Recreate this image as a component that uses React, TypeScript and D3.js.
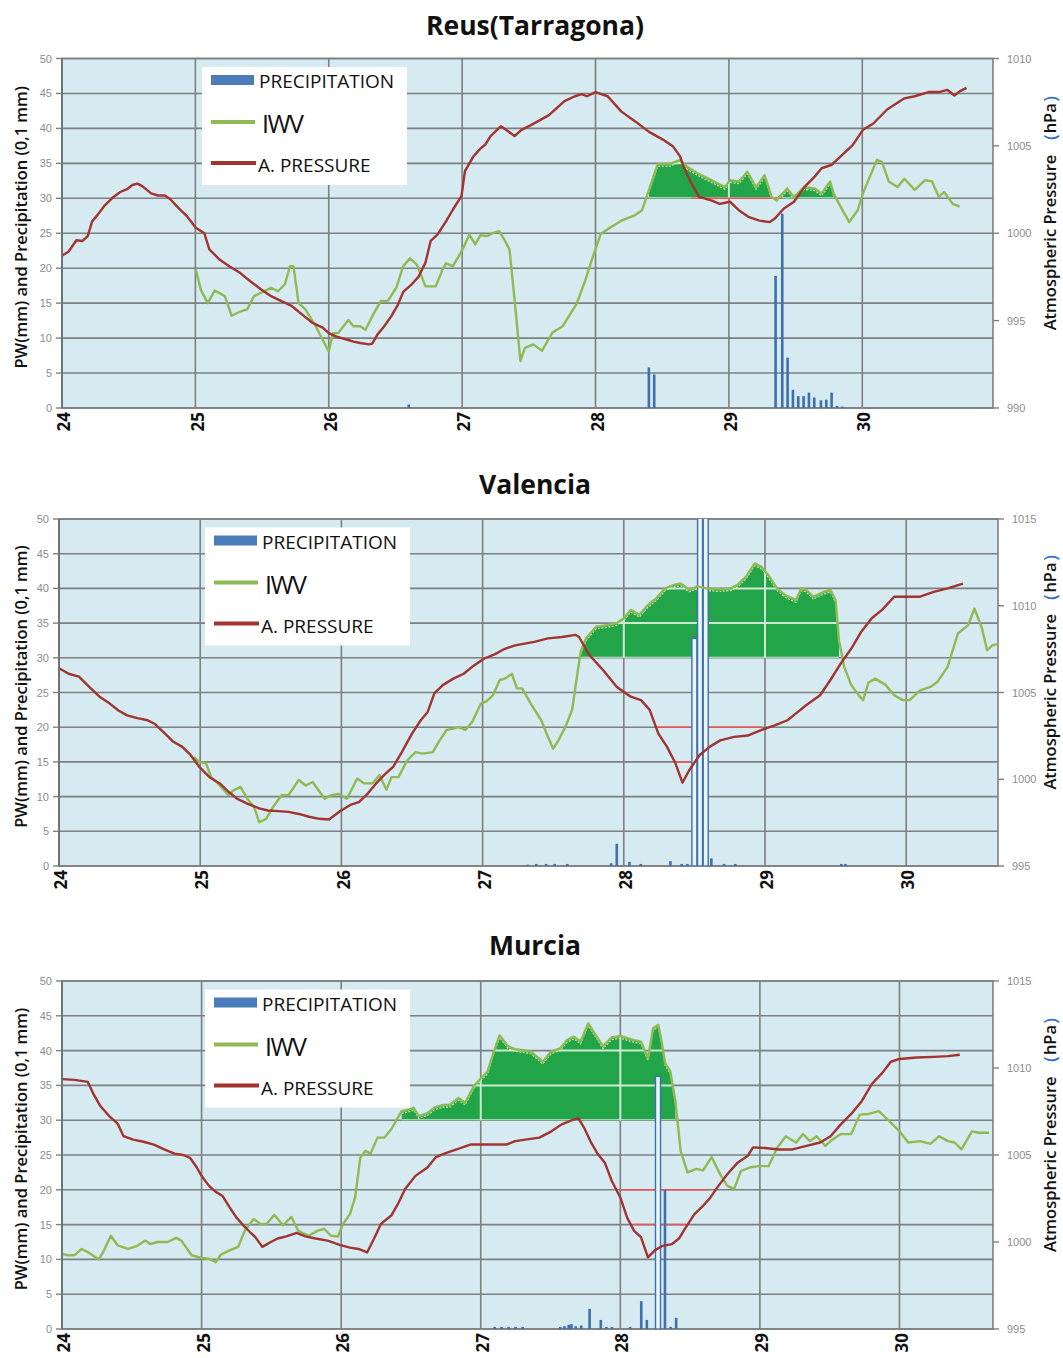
import React from "react";
import * as d3 from "d3";

type Pt = [number, number];

// ---------- shared tick values ----------
const DAY_TICKS = [24, 25, 26, 27, 28, 29, 30];
const PW_TICKS = [0, 5, 10, 15, 20, 25, 30, 35, 40, 45, 50];
const REUS_P_TICKS = [990, 995, 1000, 1005, 1010];
const VAL_P_TICKS = [995, 1000, 1005, 1010, 1015];
const MUR_P_TICKS = [995, 1000, 1005, 1010, 1015];

// ---------- Reus (Tarragona) ----------
const REUS_IWV: Pt[] = [
  [25.003, 19.8], [25.041, 16.9], [25.093, 15.0], [25.144, 16.8], [25.221, 16.0], [25.272, 13.2],
  [25.337, 13.8], [25.388, 14.1], [25.44, 16.0], [25.504, 16.6], [25.568, 17.2], [25.62, 16.7],
  [25.671, 17.7], [25.71, 20.3], [25.735, 20.3], [25.774, 15.0], [25.825, 14.1], [25.902, 11.7],
  [25.967, 9.3], [26.0, 8.1], [26.031, 10.7], [26.069, 10.7], [26.147, 12.6], [26.185, 11.7],
  [26.237, 11.7], [26.275, 11.2], [26.339, 13.6], [26.391, 15.3], [26.442, 15.3], [26.506, 17.2],
  [26.558, 20.3], [26.609, 21.4], [26.661, 20.5], [26.725, 17.4], [26.802, 17.4], [26.853, 19.8],
  [26.879, 20.7], [26.931, 20.3], [26.995, 22.4], [27.054, 24.8], [27.098, 23.4], [27.136, 24.7],
  [27.188, 24.6], [27.239, 25.1], [27.278, 25.3], [27.316, 24.1], [27.355, 22.7], [27.393, 15.5],
  [27.437, 6.7], [27.47, 8.6], [27.534, 9.1], [27.599, 8.2], [27.677, 10.8], [27.754, 11.7],
  [27.858, 14.9], [27.922, 18.2], [27.974, 21.3], [28.039, 24.9], [28.116, 25.9], [28.194, 26.8],
  [28.298, 27.6], [28.349, 28.3], [28.401, 31.2], [28.466, 34.9], [28.556, 34.9], [28.634, 35.5],
  [28.686, 34.5], [28.763, 33.6], [28.867, 32.6], [28.97, 31.6], [29.009, 32.6], [29.074, 32.4],
  [29.138, 33.8], [29.203, 31.6], [29.268, 33.3], [29.32, 30.2], [29.358, 29.7], [29.436, 31.4],
  [29.488, 30.2], [29.565, 31.6], [29.643, 31.4], [29.695, 30.7], [29.759, 32.4], [29.785, 30.7],
  [29.837, 28.8], [29.902, 26.6], [29.966, 28.3], [30.005, 30.7], [30.057, 33.1], [30.109, 35.5],
  [30.147, 35.2], [30.199, 32.4], [30.264, 31.6], [30.316, 32.8], [30.393, 31.2], [30.471, 32.6],
  [30.523, 32.4], [30.574, 30.2], [30.613, 30.9], [30.678, 29.2], [30.73, 28.8],
];

const REUS_PRESSURE: Pt[] = [
  [24.0, 998.72], [24.051, 998.96], [24.108, 999.6], [24.154, 999.56], [24.193, 999.84],
  [24.226, 1000.68], [24.27, 1001.08], [24.321, 1001.6], [24.386, 1002.08], [24.437, 1002.36],
  [24.488, 1002.52], [24.527, 1002.76], [24.566, 1002.84], [24.604, 1002.68], [24.668, 1002.28],
  [24.72, 1002.16], [24.771, 1002.16], [24.81, 1001.96], [24.874, 1001.44], [24.938, 1000.96],
  [25.003, 1000.32], [25.067, 1000.0], [25.105, 999.08], [25.183, 998.48], [25.26, 998.08],
  [25.337, 997.72], [25.414, 997.24], [25.491, 996.8], [25.568, 996.4], [25.645, 996.12],
  [25.722, 995.84], [25.799, 995.36], [25.877, 994.88], [25.954, 994.6], [26.0, 994.28],
  [26.057, 994.08], [26.134, 993.92], [26.185, 993.8], [26.237, 993.72], [26.301, 993.64],
  [26.326, 993.68], [26.365, 994.2], [26.416, 994.68], [26.468, 995.24], [26.519, 995.92],
  [26.558, 996.64], [26.622, 997.08], [26.674, 997.52], [26.725, 998.32], [26.764, 999.56],
  [26.815, 999.92], [26.879, 1000.68], [26.931, 1001.36], [26.995, 1002.12], [27.021, 1003.56],
  [27.085, 1004.4], [27.136, 1004.84], [27.175, 1005.08], [27.213, 1005.56], [27.252, 1005.84],
  [27.29, 1006.12], [27.329, 1005.92], [27.393, 1005.56], [27.445, 1005.92], [27.509, 1006.16],
  [27.651, 1006.76], [27.767, 1007.56], [27.845, 1007.84], [27.897, 1007.96], [27.935, 1007.84],
  [28.0, 1008.08], [28.091, 1007.84], [28.194, 1006.96], [28.298, 1006.4], [28.401, 1005.8],
  [28.505, 1005.36], [28.582, 1004.96], [28.634, 1004.4], [28.66, 1003.8], [28.712, 1002.96],
  [28.776, 1002.08], [28.867, 1001.88], [28.931, 1001.68], [29.009, 1001.8], [29.074, 1001.32],
  [29.151, 1000.92], [29.229, 1000.72], [29.307, 1000.64], [29.345, 1000.84], [29.41, 1001.4],
  [29.488, 1001.8], [29.565, 1002.64], [29.643, 1003.24], [29.695, 1003.72], [29.772, 1003.92],
  [29.85, 1004.48], [29.928, 1005.04], [30.005, 1005.92], [30.083, 1006.28], [30.186, 1007.08],
  [30.316, 1007.72], [30.393, 1007.84], [30.497, 1008.08], [30.574, 1008.08], [30.639, 1008.2],
  [30.691, 1007.88], [30.73, 1008.12], [30.781, 1008.32],
];

const REUS_PRECIP: Pt[] = [
  [26.6, 0.5], [28.4, 5.8], [28.44, 4.8], [29.35, 18.9], [29.4, 27.8], [29.44, 7.2],
  [29.48, 2.6], [29.52, 1.7], [29.56, 1.7], [29.6, 2.2], [29.64, 1.5], [29.69, 1.1],
  [29.73, 1.2], [29.77, 2.2], [29.81, 0.3], [29.85, 0.2],
];

// horizontal pressure-drop markers: [from day, to day, level on PW axis]
const REUS_MARKS: [number, number, number][] = [[28.72, 29.4, 30]];

// ---------- Valencia ----------
const VAL_IWV: Pt[] = [
  [24.956, 15.7], [24.993, 15.0], [25.041, 14.8], [25.078, 12.8], [25.139, 11.6], [25.2, 10.2],
  [25.236, 10.9], [25.285, 11.4], [25.333, 9.7], [25.382, 8.5], [25.418, 6.3], [25.467, 6.8],
  [25.516, 8.5], [25.577, 10.2], [25.625, 10.2], [25.698, 12.4], [25.747, 11.6], [25.796, 12.1],
  [25.881, 9.7], [25.929, 10.2], [25.978, 10.4], [26.039, 9.7], [26.112, 12.6], [26.161, 11.9],
  [26.221, 11.9], [26.27, 13.1], [26.319, 11.0], [26.355, 12.8], [26.404, 12.8], [26.465, 15.2],
  [26.526, 16.4], [26.574, 16.2], [26.647, 16.4], [26.696, 18.1], [26.745, 19.6], [26.793, 19.8],
  [26.83, 20.0], [26.878, 19.6], [26.927, 20.8], [26.988, 23.4], [27.024, 23.7], [27.073, 24.6],
  [27.122, 26.8], [27.158, 27.0], [27.207, 27.7], [27.243, 25.6], [27.28, 25.6], [27.341, 23.4],
  [27.415, 21.0], [27.463, 18.6], [27.5, 16.9], [27.537, 18.1], [27.585, 20.0], [27.634, 22.5],
  [27.671, 27.7], [27.695, 30.9], [27.732, 32.8], [27.805, 34.5], [27.878, 34.7], [27.951, 35.0],
  [28.0, 35.7], [28.049, 36.9], [28.11, 36.2], [28.171, 37.6], [28.232, 38.6], [28.293, 40.0],
  [28.354, 40.5], [28.402, 40.7], [28.463, 39.8], [28.524, 40.3], [28.585, 40.0], [28.683, 39.9],
  [28.756, 40.0], [28.805, 40.5], [28.866, 41.7], [28.927, 43.6], [28.976, 43.1], [29.024, 41.9],
  [29.085, 40.0], [29.146, 39.0], [29.22, 38.3], [29.256, 40.0], [29.293, 39.8], [29.341, 38.8],
  [29.415, 39.5], [29.463, 39.8], [29.5, 38.3], [29.524, 32.5], [29.561, 28.7], [29.61, 26.1],
  [29.671, 24.4], [29.695, 23.9], [29.732, 26.4], [29.78, 27.0], [29.854, 26.1], [29.915, 24.6],
  [29.976, 23.9], [30.024, 23.9], [30.098, 25.3], [30.171, 25.8], [30.22, 26.5], [30.293, 28.7],
  [30.366, 33.5], [30.439, 34.7], [30.483, 37.1], [30.537, 34.2], [30.573, 31.1], [30.61, 31.8],
  [30.65, 32.0],
];

const VAL_PRESSURE: Pt[] = [
  [24.0, 1006.4], [24.068, 1006.08], [24.141, 1005.92], [24.214, 1005.32], [24.287, 1004.76],
  [24.36, 1004.36], [24.421, 1003.96], [24.482, 1003.68], [24.555, 1003.52], [24.628, 1003.4],
  [24.676, 1003.2], [24.749, 1002.64], [24.81, 1002.16], [24.871, 1001.88], [24.932, 1001.4],
  [24.993, 1000.72], [25.066, 1000.12], [25.139, 999.76], [25.2, 999.28], [25.26, 998.88],
  [25.333, 998.6], [25.418, 998.32], [25.479, 998.2], [25.552, 998.16], [25.625, 998.12],
  [25.698, 998.0], [25.771, 997.84], [25.844, 997.72], [25.912, 997.68], [25.99, 998.16],
  [26.063, 998.52], [26.124, 998.68], [26.185, 999.16], [26.246, 999.76], [26.307, 1000.28],
  [26.367, 1000.72], [26.428, 1001.56], [26.501, 1002.64], [26.562, 1003.4], [26.611, 1003.88],
  [26.659, 1004.96], [26.72, 1005.44], [26.793, 1005.8], [26.866, 1006.08], [26.939, 1006.56],
  [27.012, 1006.96], [27.085, 1007.2], [27.158, 1007.52], [27.231, 1007.72], [27.366, 1007.92],
  [27.463, 1008.12], [27.561, 1008.2], [27.659, 1008.32], [27.683, 1008.2], [27.756, 1007.16],
  [27.854, 1006.28], [27.951, 1005.32], [28.049, 1004.76], [28.122, 1004.56], [28.183, 1004.0],
  [28.244, 1002.64], [28.305, 1001.88], [28.366, 1000.92], [28.415, 999.8], [28.463, 1000.52],
  [28.537, 1001.4], [28.61, 1001.88], [28.683, 1002.24], [28.78, 1002.44], [28.878, 1002.52],
  [28.976, 1002.84], [29.073, 1003.12], [29.159, 1003.4], [29.22, 1003.8], [29.293, 1004.28],
  [29.39, 1004.84], [29.463, 1005.72], [29.537, 1006.68], [29.61, 1007.52], [29.683, 1008.52],
  [29.756, 1009.28], [29.829, 1009.76], [29.915, 1010.52], [30.0, 1010.52], [30.098, 1010.52],
  [30.195, 1010.8], [30.293, 1011.0], [30.402, 1011.28],
];

const VAL_PRECIP: Pt[] = [
  [27.32, 0.2], [27.38, 0.3], [27.45, 0.3], [27.51, 0.3], [27.6, 0.3], [27.91, 0.4],
  [27.95, 3.2], [28.04, 0.6], [28.12, 0.3], [28.33, 0.7], [28.41, 0.3], [28.45, 0.3],
  [28.5, 32.8], [28.54, 62], [28.58, 58], [28.62, 1.1], [28.71, 0.3], [28.79, 0.3],
  [29.54, 0.3], [29.57, 0.3],
];

const VAL_MARKS: [number, number, number][] = [[28.23, 28.97, 20], [28.35, 28.49, 15]];

// ---------- Murcia ----------
const MUR_IWV: Pt[] = [
  [24.0, 10.8], [24.042, 10.6], [24.091, 10.6], [24.14, 11.5], [24.19, 11.0], [24.264, 10.0],
  [24.301, 11.3], [24.35, 13.4], [24.399, 12.0], [24.473, 11.5], [24.535, 11.9], [24.596, 12.7],
  [24.633, 12.2], [24.683, 12.5], [24.757, 12.5], [24.818, 13.1], [24.855, 12.7], [24.929, 10.6],
  [25.003, 10.2], [25.052, 10.1], [25.102, 9.6], [25.139, 10.7], [25.2, 11.3], [25.262, 11.8],
  [25.311, 14.2], [25.373, 15.8], [25.422, 15.1], [25.467, 15.1], [25.521, 16.4], [25.582, 14.9],
  [25.644, 16.1], [25.693, 14.1], [25.767, 13.4], [25.829, 14.1], [25.878, 14.4], [25.927, 13.4],
  [25.977, 13.3], [26.014, 15.1], [26.063, 16.5], [26.1, 18.9], [26.137, 24.6], [26.174, 25.6],
  [26.211, 25.2], [26.26, 27.5], [26.31, 27.5], [26.359, 28.7], [26.433, 31.3], [26.482, 31.5],
  [26.519, 31.8], [26.556, 30.6], [26.618, 31.0], [26.667, 31.8], [26.729, 32.2], [26.778, 32.2],
  [26.84, 33.2], [26.889, 32.5], [26.95, 34.9], [27.0, 36.0], [27.049, 37.0], [27.098, 40.1],
  [27.135, 42.2], [27.197, 40.6], [27.246, 40.2], [27.358, 39.9], [27.444, 38.4], [27.506, 39.9],
  [27.568, 40.3], [27.617, 41.5], [27.667, 42.0], [27.716, 41.3], [27.77, 43.9], [27.815, 42.5],
  [27.877, 40.6], [27.938, 41.9], [28.0, 42.1], [28.049, 41.8], [28.099, 41.5], [28.148, 41.3],
  [28.198, 38.9], [28.235, 43.2], [28.272, 43.7], [28.296, 41.3], [28.321, 38.2], [28.358, 37.0],
  [28.395, 32.7], [28.432, 25.6], [28.481, 22.5], [28.543, 23.0], [28.593, 22.8], [28.654, 24.7],
  [28.716, 22.2], [28.765, 20.6], [28.815, 20.1], [28.864, 22.7], [28.926, 23.2], [28.988, 23.4],
  [29.062, 23.4], [29.123, 26.0], [29.185, 27.7], [29.259, 26.8], [29.309, 28.0], [29.358, 27.0],
  [29.407, 27.7], [29.469, 26.3], [29.519, 27.2], [29.58, 28.0], [29.654, 28.0], [29.716, 30.8],
  [29.778, 30.9], [29.852, 31.3], [29.926, 29.9], [30.0, 28.4], [30.062, 26.8], [30.148, 27.0],
  [30.222, 26.6], [30.284, 27.7], [30.346, 27.0], [30.395, 26.8], [30.444, 25.8], [30.519, 28.4],
  [30.568, 28.2], [30.642, 28.2],
];

const MUR_PRESSURE: Pt[] = [
  [24.0, 1009.36], [24.091, 1009.32], [24.185, 1009.2], [24.227, 1008.48], [24.276, 1007.8],
  [24.338, 1007.24], [24.399, 1006.8], [24.441, 1006.08], [24.51, 1005.88], [24.584, 1005.76],
  [24.658, 1005.6], [24.732, 1005.32], [24.806, 1005.08], [24.868, 1005.0], [24.917, 1004.84],
  [24.966, 1004.28], [25.003, 1003.76], [25.052, 1003.24], [25.102, 1002.88], [25.151, 1002.64],
  [25.2, 1002.0], [25.25, 1001.4], [25.299, 1000.96], [25.348, 1000.56], [25.385, 1000.28],
  [25.435, 999.72], [25.496, 1000.0], [25.545, 1000.2], [25.607, 1000.32], [25.681, 1000.52],
  [25.743, 1000.32], [25.817, 1000.2], [25.903, 1000.08], [25.989, 999.84], [26.063, 999.68],
  [26.125, 999.6], [26.186, 999.4], [26.236, 1000.2], [26.285, 1001.04], [26.359, 1001.52],
  [26.408, 1002.2], [26.458, 1003.04], [26.532, 1003.8], [26.618, 1004.28], [26.679, 1004.88],
  [26.753, 1005.12], [26.827, 1005.32], [26.926, 1005.6], [27.0, 1005.6], [27.098, 1005.6],
  [27.185, 1005.6], [27.246, 1005.8], [27.42, 1006.0], [27.506, 1006.36], [27.58, 1006.76],
  [27.654, 1007.0], [27.699, 1007.12], [27.741, 1006.56], [27.79, 1005.72], [27.84, 1005.04],
  [27.889, 1004.56], [27.938, 1003.52], [28.0, 1002.56], [28.049, 1001.4], [28.099, 1000.64],
  [28.148, 1000.28], [28.198, 999.12], [28.247, 999.52], [28.296, 999.76], [28.37, 999.88],
  [28.42, 1000.2], [28.469, 1000.84], [28.531, 1001.6], [28.593, 1002.08], [28.642, 1002.52],
  [28.704, 1003.24], [28.765, 1003.88], [28.84, 1004.56], [28.914, 1004.96], [28.951, 1005.44],
  [29.037, 1005.4], [29.136, 1005.32], [29.235, 1005.32], [29.333, 1005.52], [29.432, 1005.72],
  [29.506, 1006.08], [29.58, 1006.76], [29.654, 1007.36], [29.728, 1008.08], [29.802, 1009.08],
  [29.877, 1009.72], [29.938, 1010.36], [30.0, 1010.52], [30.123, 1010.6], [30.247, 1010.64],
  [30.346, 1010.68], [30.432, 1010.76],
];

const MUR_PRECIP: Pt[] = [
  [27.1, 0.3], [27.15, 0.3], [27.2, 0.3], [27.25, 0.3], [27.3, 0.3], [27.57, 0.3],
  [27.6, 0.4], [27.63, 0.6], [27.65, 0.7], [27.68, 0.4], [27.72, 0.5], [27.78, 2.9],
  [27.86, 1.3], [27.9, 0.3], [27.94, 0.3], [28.07, 0.3], [28.15, 4.0], [28.19, 1.3],
  [28.27, 36.3], [28.32, 20.0], [28.36, 0.3], [28.4, 1.6],
];

const MUR_MARKS: [number, number, number][] = [[28.0, 28.64, 20], [28.1, 28.47, 15]];

// ---------- styling ----------
const C_BG = "#d6eaf1";
const C_GRID = "#7d7f80";
const C_IWV = "#8fba52";
const C_PRES = "#a2332f";
const C_BAR = "#3e70ae";
const C_FILL = "#22a548";
const C_MARK = "#f2504f";
const FONT = "'Open Sans', 'Liberation Sans', Arial, sans-serif";

interface PanelCfg {
  id: string;
  title: string;
  titleY: number;
  left: number;
  right: number;
  top: number;
  bottom: number;
  xMax: number;
  pDomain: [number, number];
  pTicks: number[];
  iwv: Pt[];
  pressure: Pt[];
  precip: Pt[];
  marks: [number, number, number][];
  fillRange: [number, number];
  fillBase: number;
  legendX: number;
}

const PANELS: PanelCfg[] = [
  {
    id: "reus", title: "Reus(Tarragona)", titleY: 35,
    left: 62, right: 993, top: 58.5, bottom: 408, xMax: 30.98,
    pDomain: [990, 1010], pTicks: REUS_P_TICKS,
    iwv: REUS_IWV, pressure: REUS_PRESSURE, precip: REUS_PRECIP, marks: REUS_MARKS,
    fillRange: [28.38, 29.8], fillBase: 30, legendX: 202,
  },
  {
    id: "valencia", title: "Valencia", titleY: 494,
    left: 59, right: 998, top: 519, bottom: 866, xMax: 30.65,
    pDomain: [995, 1015], pTicks: VAL_P_TICKS,
    iwv: VAL_IWV, pressure: VAL_PRESSURE, precip: VAL_PRECIP, marks: VAL_MARKS,
    fillRange: [27.69, 29.54], fillBase: 30, legendX: 205,
  },
  {
    id: "murcia", title: "Murcia", titleY: 955,
    left: 62, right: 993, top: 981, bottom: 1329, xMax: 30.67,
    pDomain: [995, 1015], pTicks: MUR_P_TICKS,
    iwv: MUR_IWV, pressure: MUR_PRESSURE, precip: MUR_PRECIP, marks: MUR_MARKS,
    fillRange: [26.43, 28.4], fillBase: 30, legendX: 205,
  },
];

function Panel({ cfg }: { cfg: PanelCfg }) {
  const x = d3.scaleLinear().domain([24, cfg.xMax]).range([cfg.left, cfg.right]);
  const y = d3.scaleLinear().domain([0, 50]).range([cfg.bottom, cfg.top]);
  const yp = d3.scaleLinear().domain(cfg.pDomain).range([cfg.bottom, cfg.top]);

  const iwvLine = d3.line<Pt>().x((d) => x(d[0])).y((d) => y(d[1]));
  const presLine = d3.line<Pt>().x((d) => x(d[0])).y((d) => yp(d[1]));
  const fillPts = cfg.iwv.filter((d) => d[0] >= cfg.fillRange[0] && d[0] <= cfg.fillRange[1]);
  const fillArea = d3
    .area<Pt>()
    .x((d) => x(d[0]))
    .y0(y(cfg.fillBase))
    .y1((d) => y(Math.max(d[1], cfg.fillBase)));
  const fillD = fillArea(fillPts) || "";

  const plotClip = `clip-${cfg.id}`;
  const fillClip = `fill-${cfg.id}`;
  const midY = (cfg.top + cfg.bottom) / 2;
  const lx = cfg.legendX;
  const lt = cfg.top + 8.5;

  const gridLines = (color: string, w: number) => (
    <g stroke={color} strokeWidth={w}>
      {PW_TICKS.map((t) => (
        <line key={`h${t}`} x1={cfg.left} x2={cfg.right} y1={y(t)} y2={y(t)} />
      ))}
      {DAY_TICKS.map((d) => (
        <line key={`v${d}`} x1={x(d)} x2={x(d)} y1={cfg.top} y2={cfg.bottom} />
      ))}
    </g>
  );

  return (
    <g>
      <defs>
        <clipPath id={plotClip}>
          <rect x={cfg.left} y={cfg.top} width={cfg.right - cfg.left} height={cfg.bottom - cfg.top} />
        </clipPath>
        <clipPath id={fillClip}>
          <path d={fillD} />
        </clipPath>
      </defs>

      <text x={535} y={cfg.titleY} textAnchor="middle" fontFamily={FONT} fontWeight={700} fontSize={26.5} fill="#111">
        {cfg.title}
      </text>

      <rect x={cfg.left} y={cfg.top} width={cfg.right - cfg.left} height={cfg.bottom - cfg.top} fill={C_BG} />
      {gridLines(C_GRID, 1.6)}
      <rect x={cfg.left} y={cfg.top} width={cfg.right - cfg.left} height={cfg.bottom - cfg.top} fill="none" stroke={C_GRID} strokeWidth={1.6} />

      {/* shaded moisture excess above the base level */}
      <path d={fillD} fill={C_FILL} />
      <g clipPath={`url(#${fillClip})`}>
        {gridLines("#cfe9d2", 2)}
        <path d={iwvLine(fillPts) || ""} transform="translate(0,2.2)" fill="none" stroke="#e4f4cf" strokeWidth={1.1} strokeDasharray="2,1.5" />
      </g>

      <g clipPath={`url(#${plotClip})`}>
        {cfg.marks.map(([a, b, v], i) => (
          <line key={`m${i}`} x1={x(a)} x2={x(b)} y1={y(v)} y2={y(v)} stroke={C_MARK} strokeWidth={1.5} />
        ))}
        {cfg.precip.map(([d, v], i) =>
          v > 30 ? (
            <rect key={`b${i}`} x={x(d) - 2.5} y={y(v)} width={5} height={y(0) - y(v)} fill="#e9f5f9" stroke={C_BAR} strokeWidth={1.4} />
          ) : (
            <rect key={`b${i}`} x={x(d) - 1.3} y={y(v)} width={2.6} height={y(0) - y(v)} fill={C_BAR} />
          )
        )}
        <path d={iwvLine(cfg.iwv) || ""} fill="none" stroke={C_IWV} strokeWidth={2.4} strokeLinejoin="round" />
        <path d={presLine(cfg.pressure) || ""} fill="none" stroke={C_PRES} strokeWidth={2.4} strokeLinejoin="round" />
      </g>

      {/* left axis */}
      <line x1={cfg.left} x2={cfg.left} y1={cfg.top} y2={cfg.bottom} stroke="#6f7172" strokeWidth={1.8} />
      {PW_TICKS.map((t) => (
        <g key={`lt${t}`}>
          <line x1={cfg.left - 6} x2={cfg.left} y1={y(t)} y2={y(t)} stroke={C_GRID} strokeWidth={1.4} />
          <text x={cfg.left - 10} y={y(t) + 4} textAnchor="end" fontFamily="'Liberation Sans', Arial, sans-serif" fontSize={11} fill="#8c8c8c">
            {t}
          </text>
        </g>
      ))}
      {/* right axis */}
      {cfg.pTicks.map((p) => (
        <g key={`rt${p}`}>
          <line x1={cfg.right} x2={cfg.right + 6} y1={yp(p)} y2={yp(p)} stroke={C_GRID} strokeWidth={1.4} />
          <text x={cfg.right + 14} y={yp(p) + 4} fontFamily="'Liberation Sans', Arial, sans-serif" fontSize={11} fill="#8c8c8c">
            {p}
          </text>
        </g>
      ))}
      {/* day labels */}
      {DAY_TICKS.map((d) => (
        <text
          key={`xt${d}`}
          transform={`translate(${x(d) + 2},${cfg.bottom + 4}) rotate(-90)`}
          dy="0.36em"
          textAnchor="end"
          fontFamily={FONT}
          fontWeight={700}
          fontSize={17}
          fill="#111"
        >
          {d}
        </text>
      ))}

      <text
        transform={`translate(21,${midY - 6}) rotate(-90)`}
        dy="0.36em"
        textAnchor="middle"
        fontFamily={FONT}
        fontWeight={600}
        fontSize={16.5}
        fill="#111"
      >
        PW(mm) and Precipitation (0,1 mm)
      </text>
      <text
        transform={`translate(1050,${midY - 25}) rotate(-90)`}
        dy="0.36em"
        textAnchor="middle"
        fontFamily={FONT}
        fontWeight={600}
        fontSize={16.5}
        fill="#111"
      >
        Atmospheric Pressure <tspan fill="#2f6fd0">（</tspan>hPa<tspan fill="#2f6fd0">）</tspan>
      </text>

      {/* legend */}
      <rect x={lx} y={lt} width={205} height={118} fill="#ffffff" />
      <rect x={lx + 9} y={lt + 8} width={43} height={10} fill="#4a7dba" />
      <text x={lx + 57} y={lt + 21} fontFamily={FONT} fontSize={19} fill="#111">PRECIPITATION</text>
      <line x1={lx + 9} x2={lx + 53} y1={lt + 55} y2={lt + 55} stroke={C_IWV} strokeWidth={4} />
      <text x={lx + 60} y={lt + 66} fontFamily={FONT} fontSize={25} fill="#111" letterSpacing={-1.5}>IWV</text>
      <line x1={lx + 9} x2={lx + 54} y1={lt + 96} y2={lt + 96} stroke={C_PRES} strokeWidth={4} />
      <text x={lx + 56} y={lt + 105} fontFamily={FONT} fontSize={19} fill="#111">A. PRESSURE</text>
    </g>
  );
}

export default function App() {
  return (
    <svg width={1063} height={1358} style={{ display: "block", position: "absolute", left: 0, top: 0, background: "#fff" }}>
      {PANELS.map((p) => (
        <Panel key={p.id} cfg={p} />
      ))}
    </svg>
  );
}
